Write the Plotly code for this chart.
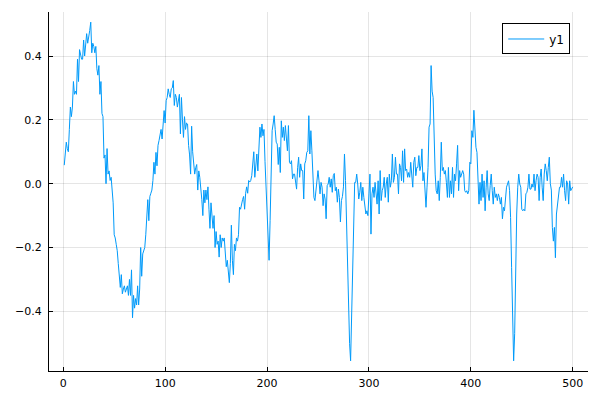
import plotly.graph_objects as go

y1 = [
    0.058, 0.09, 0.13, 0.11, 0.10, 0.17, 0.24, 0.21, 0.24, 0.32,
    0.28, 0.29, 0.28, 0.39, 0.32, 0.42, 0.40, 0.39, 0.39, 0.45,
    0.40, 0.44, 0.47, 0.44, 0.47, 0.48, 0.506, 0.41, 0.44, 0.43,
    0.41, 0.43, 0.36, 0.34, 0.37, 0.28, 0.32, 0.22, 0.21, 0.08,
    0.09, 0.0, 0.11, 0.03, 0.04, 0.01, 0.02, -0.03, -0.06, -0.16,
    -0.17, -0.19, -0.21, -0.25, -0.30, -0.325, -0.285, -0.345, -0.33, -0.32,
    -0.34, -0.33, -0.32, -0.35, -0.30, -0.35, -0.27, -0.42, -0.35, -0.39,
    -0.36, -0.38, -0.32, -0.38, -0.33, -0.20, -0.29, -0.22, -0.21, -0.20,
    -0.16, -0.11, -0.05, -0.116, -0.04, -0.03, -0.02, 0.01, 0.067, 0.03,
    0.098, 0.056, 0.12, 0.135, 0.15, 0.17, 0.14, 0.20, 0.229, 0.19,
    0.26, 0.27, 0.297, 0.28, 0.27, 0.297, 0.30, 0.323, 0.245, 0.28,
    0.27, 0.24, 0.26, 0.28, 0.156, 0.27, 0.20, 0.145, 0.21, 0.17,
    0.19, 0.187, 0.12, 0.09, 0.03, 0.18, 0.10, 0.06, 0.03, 0.05,
    0.06, -0.02, 0.04, 0.02, -0.01, -0.05, -0.10, -0.02, -0.06, -0.02,
    -0.05, -0.01, -0.08, -0.14, -0.06, -0.09, -0.14, -0.10, -0.20, -0.15,
    -0.19, -0.18, -0.23, -0.16, -0.20, -0.17, -0.18, -0.17, -0.22, -0.26,
    -0.24, -0.27, -0.31, -0.25, -0.13, -0.24, -0.285, -0.19, -0.21, -0.17,
    -0.18, -0.16, -0.074, -0.08, -0.06, -0.05, -0.04, -0.08, -0.03, -0.01,
    -0.03, 0.01, 0.005, 0.01, 0.025, 0.06, 0.10, 0.02, 0.07, 0.093,
    0.04, 0.13, 0.177, 0.145, 0.187, 0.15, 0.17, 0.07, 0.0, -0.095,
    -0.18, -0.24, -0.116, 0.09, 0.166, 0.187, 0.213, 0.17, 0.13, 0.124,
    0.06, 0.114, 0.035, 0.197, 0.145, 0.177, 0.135, 0.182, 0.12, 0.103,
    0.182, 0.067, 0.062, 0.072, 0.015, 0.03, 0.03, 0.004, -0.017, 0.05,
    0.083, 0.02, 0.062, 0.041, 0.041, -0.048, 0.062, 0.072, 0.098, 0.103,
    0.213, 0.093, 0.166, 0.103, -0.011, -0.043, -0.053, -0.022, 0.01, 0.041,
    0.009, -0.032, 0.004, -0.011, -0.069, -0.032, -0.048, -0.11, -0.006, -0.001,
    0.02, -0.011, 0.015, -0.027, 0.025, 0.032, -0.022, -0.011, -0.058, -0.017,
    -0.043, -0.12, -0.053, -0.04, -0.01, 0.093, 0.01, -0.116, -0.262, -0.43,
    -0.50, -0.555, -0.42, -0.262, -0.095, 0.004, 0.004, 0.03, -0.001, -0.048,
    -0.027, 0.004, -0.053, -0.011, -0.043, -0.064, -0.095, -0.085, -0.10, -0.032,
    0.03, -0.158, -0.032, -0.011, -0.043, 0.004, -0.038, -0.064, 0.009, -0.095,
    0.041, -0.053, -0.022, -0.011, 0.02, -0.043, -0.001, 0.02, -0.058, 0.03,
    -0.011, 0.009, 0.093, 0.004, 0.02, 0.083, 0.03, 0.03, -0.032, 0.062,
    0.051, 0.009, 0.103, 0.004, 0.109, 0.041, 0.046, 0.02, 0.035, 0.02,
    0.067, 0.02, -0.011, 0.067, 0.083, 0.025, 0.051, 0.051, 0.088, 0.041,
    0.056, 0.109, 0.009, 0.035, -0.022, -0.074, -0.011, 0.051, 0.177, 0.187,
    0.37, 0.29, 0.27, 0.124, 0.03, -0.022, -0.032, 0.009, -0.053, 0.02,
    0.13, 0.041, 0.051, 0.03, 0.041, 0.004, -0.043, 0.051, -0.043, 0.009,
    -0.032, 0.051, -0.043, 0.03, 0.009, 0.062, 0.12, -0.022, 0.041, 0.02,
    0.035, 0.041, 0.03, -0.022, -0.027, -0.022, -0.032, -0.022, 0.067, 0.062,
    0.166, 0.145, 0.23, 0.14, 0.114, 0.098, -0.011, -0.064, 0.004, -0.053,
    0.03, -0.043, 0.009, -0.085, -0.011, 0.041, -0.032, -0.053, -0.006, 0.03,
    -0.022, -0.064, -0.011, -0.043, -0.032, -0.053, -0.032, -0.043, -0.064, -0.043,
    -0.11, -0.074, -0.085, -0.043, -0.011, -0.001, 0.009, -0.022, -0.106, -0.262,
    -0.42, -0.555, -0.47, -0.262, -0.095, -0.011, 0.03, -0.001, -0.011, -0.08,
    -0.085, -0.08, -0.085, -0.032, -0.027, -0.011, 0.03, -0.017, -0.017, -0.001,
    -0.011, 0.03, -0.022, 0.009, 0.03, 0.02, -0.053, 0.02, 0.046, -0.011,
    -0.053, 0.03, 0.062, 0.041, 0.009, 0.051, 0.083, 0.0, -0.02, -0.137,
    -0.18, -0.137, -0.232, -0.095, -0.064, -0.032, -0.011, -0.011, 0.02, -0.011,
    0.03, -0.022, -0.053, 0.009, -0.001, -0.064, 0.009, -0.022, -0.017, -0.01,
]
x1 = list(range(1, len(y1) + 1))

xticks = [0, 100, 200, 300, 400, 500]
yticks = [-0.4, -0.2, 0.0, 0.2, 0.4]
yticklabels = ["\u22120.4", "\u22120.2", "0.0", "0.2", "0.4"]

# axis limits widened 3% on each side (like Plots.jl)
xmin, xmax = min(x1), max(x1)
ymin, ymax = min(y1), max(y1)
xpad = 0.03 * (xmax - xmin)
ypad = 0.03 * (ymax - ymin)

fig = go.Figure()
fig.add_trace(go.Scatter(
    x=x1, y=y1, mode="lines", name="y1",
    line=dict(color="#009AFA", width=1),
))

axis_common = dict(
    showline=True, linecolor="black", linewidth=1, mirror=False,
    ticks="inside", ticklen=4, tickcolor="black", tickwidth=1,
    showgrid=True, gridcolor="rgba(0,0,0,0.1)", gridwidth=0.5,
    zeroline=False, automargin=False,
    tickfont=dict(family="DejaVu Sans", size=11, color="black"),
)

# page body has an 8px default margin, so the figure is 592x392
fig.update_layout(
    width=592, height=392,
    paper_bgcolor="white", plot_bgcolor="white",
    margin=dict(l=41, r=12, t=4, b=29, autoexpand=False),
    showlegend=True,
    legend=dict(
        x=0.967, y=0.968, xanchor="right", yanchor="top",
        bordercolor="black", borderwidth=1, bgcolor="white",
        itemwidth=36,
        font=dict(family="DejaVu Sans", size=12, color="black"),
    ),
    xaxis=dict(range=[xmin - xpad, xmax + xpad], tickvals=xticks,
               ticklabelstandoff=2, **axis_common),
    yaxis=dict(range=[ymin - ypad, ymax + ypad], tickvals=yticks,
               ticktext=yticklabels, ticklabelstandoff=4, **axis_common),
)

fig.write_html("out.html")
